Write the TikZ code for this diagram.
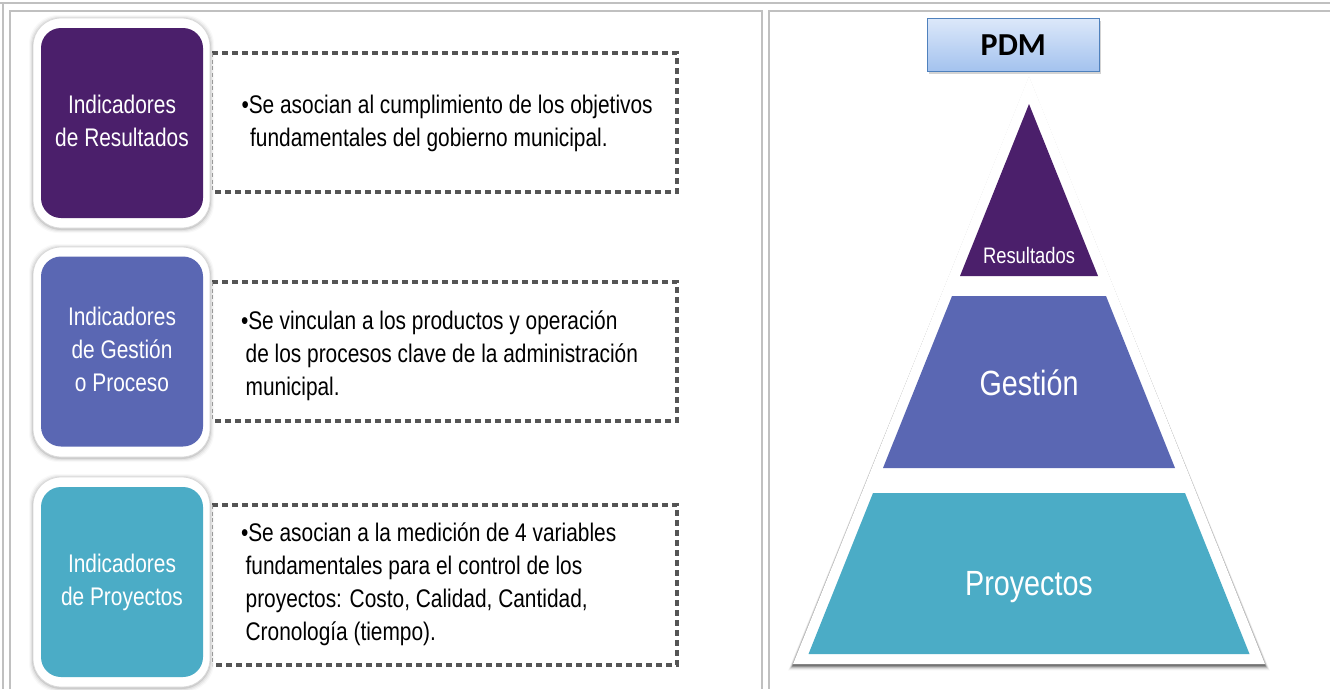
\documentclass[tikz,border=0pt]{standalone}
\usepackage{fontspec}
\setmainfont{Liberation Sans}
\newfontfamily\narfont[FakeStretch=0.82]{Liberation Sans}
\newfontfamily\calfont{Carlito}
\usetikzlibrary{shadows}
\definecolor{cpurple}{HTML}{4B1F6B}
\definecolor{cblue}{HTML}{5A67B3}
\definecolor{cteal}{HTML}{4BACC6}
\definecolor{cframe}{HTML}{C0C0C0}
\definecolor{cdash}{HTML}{555555}
\definecolor{pdmtop}{HTML}{DCE8FA}
\definecolor{pdmbot}{HTML}{A3C2EE}
\definecolor{pdmborder}{HTML}{4F81BD}
\tikzset{
  frameline/.style={draw=cframe, line width=1.5pt},
  outerbox/.style={fill=white, draw=black!15, line width=0.6pt, rounded corners=21pt,
    minimum width=132.75pt, minimum height=157.5pt, inner sep=0pt, outer sep=0pt},
  innerbox/.style={rounded corners=15pt, minimum width=121.5pt, minimum height=142.5pt,
    inner sep=0pt, outer sep=0pt, text=white, align=center,
    font=\narfont\fontsize{19.1}{24.75}\selectfont},
  dashbox/.style={draw=cdash, line width=2.7pt, dash pattern=on 4.6pt off 2.9pt},
  dashleft/.style={draw=black!35, line width=0.6pt, dash pattern=on 3pt off 2pt},
  desc/.style={anchor=north west, inner sep=0pt, outer sep=0pt, align=left, text=black,
    font=\narfont\fontsize{19.1}{24.75}\selectfont},
  pyrlabel/.style={anchor=base, inner sep=0pt, text=white},
  pdmbox/.style={draw=pdmborder, line width=1.1pt, top color=pdmtop, bottom color=pdmbot,
    minimum width=129pt, minimum height=40pt, inner sep=0pt,
    font=\calfont\bfseries\fontsize{24}{28}\selectfont,
    drop shadow={shadow xshift=1.2pt, shadow yshift=-2pt, opacity=0.35}},
}
\begin{document}
\begin{tikzpicture}[x=0.75pt,y=-0.75pt]
\useasboundingbox (0,0) rectangle (1330,689);

% table frame
\draw[frameline] (0,3) -- (1330,3);
\draw[frameline] (3,3) -- (3,689);
\draw[frameline] (10,689) -- (10,11) -- (762,11) -- (762,689);
\draw[frameline] (1330,11) -- (769,11) -- (769,689);

% dashed description frames
\draw[dashbox] (212,53) -- (677,53) -- (677,192) -- (212,192);
\draw[dashleft] (212,53) -- (212,192);
\draw[dashbox] (212,282) -- (677,282) -- (677,421) -- (212,421);
\draw[dashleft] (212,282) -- (212,421);
\draw[dashbox] (212,505) -- (677,505) -- (677,665) -- (212,665);
\draw[dashleft] (212,505) -- (212,665);

% shadows of the white rounded boxes
\foreach \yc in {123,352,582}{
  \foreach \i/\o in {1/0.09,2/0.06,3/0.04,4/0.025}{
    \fill[black, opacity=\o, rounded corners=22pt]
      (33-\i,\yc-105-\i+1) rectangle (210+\i,\yc+105+\i+1);
  }
}

% left boxes
\node[outerbox] (o1) at (121.5,123) {};
\node[innerbox, fill=cpurple] (b1) at (122,123) {\strut Indicadores\\\strut de Resultados};
\node[outerbox] (o2) at (121.5,352) {};
\node[innerbox, fill=cblue] (b2) at (122,351.5) {\strut Indicadores\\\strut de Gestión\\\strut o Proceso};
\node[outerbox] (o3) at (121.5,582) {};
\node[innerbox, fill=cteal] (b3) at (122,582) {\strut Indicadores\\\strut de Proyectos};

% descriptions
\node[desc] (t1) at (241.5,90.2) {\strut •Se asocian al cumplimiento de los objetivos\\
  \hspace*{6.5pt}\strut fundamentales del gobierno municipal.};
\node[desc] (t2) at (241,306.4) {\strut •Se vinculan a los productos y operación\\
  \hspace*{3.5pt}\strut de los procesos clave de la administración\\
  \hspace*{3.5pt}\strut municipal.};
\node[desc] (t3) at (241,517.9) {\strut •Se asocian a la medición de 4 variables\\
  \hspace*{3.5pt}\strut fundamentales para el control de los\\
  \hspace*{3.5pt}\strut proyectos: Costo, Calidad, Cantidad,\\
  \hspace*{3.5pt}\strut Cronología (tiempo).};

% pyramid shadow
\foreach \i/\o in {0.8/0.30,1.8/0.18,2.8/0.11,3.8/0.07,4.8/0.04}{
  \fill[black, opacity=\o] (1029,76+\i) -- (793-\i,664+\i+1.5) -- (1265+\i,664+\i+1.5) -- cycle;
}
% white pyramid
\fill[white] (1029,76) -- (793,664) -- (1265,664) -- cycle;

% pyramid layers
\fill[cpurple] (1029,104) -- (960,276) -- (1098,276) -- cycle;
\fill[cblue] (952,296) -- (1106,296) -- (1175,468) -- (883,468) -- cycle;
\fill[cteal] (873,493) -- (1185,493) -- (1249.5,654) -- (808.5,654) -- cycle;

\node[pyrlabel, font=\narfont\fontsize{16.8}{20}\selectfont] (lr) at (1029,263) {Resultados};
\node[pyrlabel, font=\narfont\fontsize{26.25}{30}\selectfont] (lg) at (1029,395) {Gestión};
\node[pyrlabel, font=\narfont\fontsize{26.25}{30}\selectfont] (lp) at (1029,595) {Proyectos};

% PDM box
\node[pdmbox] (pdm) at (1013.3,45) {PDM};
\end{tikzpicture}
\end{document}
